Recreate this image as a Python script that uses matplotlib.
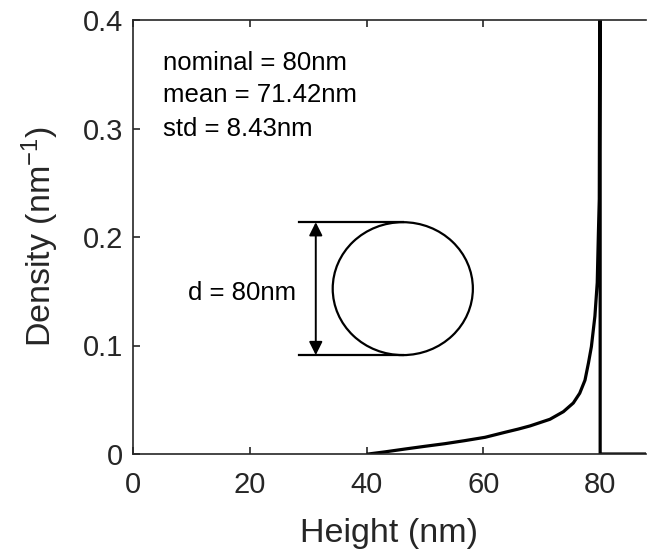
import numpy as np
import matplotlib
matplotlib.use('Agg')
import matplotlib.pyplot as plt
from matplotlib.patches import Ellipse

plt.rcParams['font.family'] = ['Liberation Sans', 'DejaVu Sans']
plt.rcParams['mathtext.fontset'] = 'custom'
plt.rcParams['mathtext.rm'] = 'Liberation Sans'
plt.rcParams['mathtext.it'] = 'Liberation Sans'
plt.rcParams['mathtext.default'] = 'regular'

# density curve
height = [40.3, 43.2, 46.6, 50.0, 53.4, 56.8, 60.3, 63.7, 66.0, 68.0, 71.4,
          73.7, 75.4, 76.5, 77.4, 78.0, 78.5, 79.1, 79.5, 79.7, 79.85, 79.95,
          80.0, 80.0, 95.0]
density = [0.0, 0.002, 0.0046, 0.0071, 0.0095, 0.0123, 0.0154, 0.020, 0.023,
           0.0259, 0.032, 0.039, 0.047, 0.056, 0.068, 0.084, 0.099, 0.127,
           0.158, 0.204, 0.235, 0.45, 2.0, 0.0, 0.0]

xticks = [0, 20, 40, 60, 80]
yticks = [0, 0.1, 0.2, 0.3, 0.4]
ytick_labels = ['0', '0.1', '0.2', '0.3', '0.4']

stats = ['nominal = 80nm', 'mean = 71.42nm', 'std = 8.43nm']
stats_y = [0.3605, 0.3305, 0.300]

# sphere sketch
d_label = 'd = 80nm'
circ_x, circ_y, circ_w, circ_h = 46.2, 0.1524, 24.0, 0.1225

W, H = 648, 554
fig = plt.figure(figsize=(W / 100, H / 100), dpi=100)
ax = fig.add_axes([133 / W, 1 - 454 / H, 513 / W, 434 / H])

ax.plot(height, density, color='k', lw=2.3, solid_joinstyle='round')

ax.set_xlim(0, 87.85)
ax.set_ylim(0, 0.4)
ax.set_xticks(xticks)
ax.set_yticks(yticks)
ax.set_yticklabels(ytick_labels)

for s in ax.spines.values():
    s.set_color('#262626')
    s.set_linewidth(1.2)
ax.spines['right'].set_visible(False)
ax.tick_params(direction='in', top=True, right=False, length=5, width=1.2,
               color='#262626', labelcolor='#262626', labelsize=21)
ax.tick_params(axis='x', pad=12)
ax.tick_params(axis='y', pad=7)

ax.set_xlabel('Height (nm)', fontsize=24.5, color='#262626', labelpad=14)
ax.set_ylabel('Density (nm$^{-1}$)', fontsize=24.5, color='#262626', labelpad=16)

for txt, y in zip(stats, stats_y):
    ax.text(5.1, y, txt, fontsize=18.5, ha='left', va='center', color='k')

ax.add_patch(Ellipse((circ_x, circ_y), circ_w, circ_h, fill=False,
                     ec='k', lw=1.6))
top = circ_y + circ_h / 2
bot = circ_y - circ_h / 2
ax.plot([28.5, circ_x], [top, top], color='k', lw=1.6)
ax.plot([28.5, circ_x], [bot, bot], color='k', lw=1.6)
ax.annotate('', xy=(31.3, top), xytext=(31.3, bot),
            arrowprops=dict(arrowstyle='<|-|>', color='k', lw=1.4,
                            mutation_scale=20, shrinkA=0, shrinkB=0))
ax.text(27.9, 0.148, d_label, fontsize=18.5, ha='right', va='center', color='k')

fig.savefig('out.png', dpi=100)
